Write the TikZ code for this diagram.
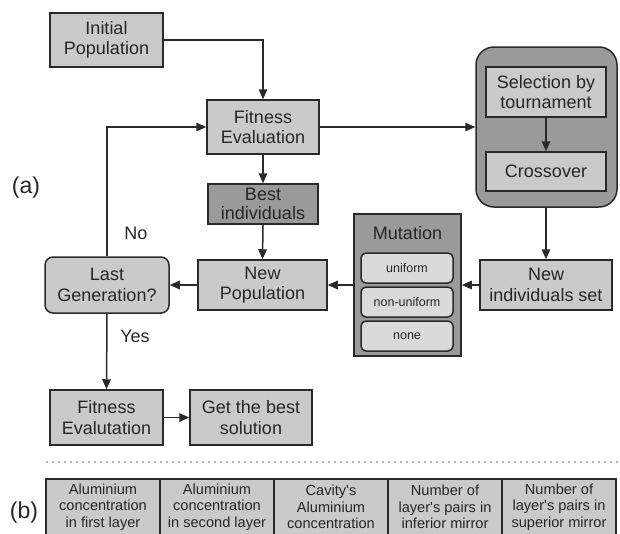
\documentclass[tikz,border=0pt]{standalone}
\usepackage{fontspec}
\setmainfont{Liberation Sans}[Ligatures=TeXOff]
\usetikzlibrary{arrows.meta}
\definecolor{lightbox}{HTML}{CACACA}
\definecolor{darkbox}{HTML}{9A9A9A}
\definecolor{innerbox}{HTML}{DADADA}
\definecolor{edge}{HTML}{2A2A2A}
\tikzset{
  box/.style={draw=edge, fill=lightbox, line width=1.5pt, align=center, inner sep=0pt,
    font=\fontsize{18}{20.5}\selectfont, text=black!85},
  darkfill/.style={fill=darkbox},
  rbox/.style={box, rounded corners=8pt},
  innerb/.style={draw=edge, fill=innerbox, line width=1.5pt, rounded corners=5pt, align=center,
    inner sep=0pt, font=\fontsize{12.5}{14}\selectfont, text=black!85,
    minimum width=92pt, minimum height=30pt},
  cellbox/.style={draw=edge, fill=lightbox, line width=1.5pt, align=center, inner sep=0pt,
    font=\fontsize{14.6}{16.5}\selectfont, text=black!85, minimum width=114pt, minimum height=56pt},
  arr/.style={draw=edge, line width=1.5pt, -{Triangle[length=10pt,width=8.5pt]}},
  lbl/.style={font=\fontsize{18}{20.5}\selectfont, text=black!85},
  biglbl/.style={font=\fontsize{23}{26}\selectfont, text=black!85}
}
\begin{document}
\begin{tikzpicture}[x=1pt,y=-1pt]
\useasboundingbox (0,0) rectangle (620,533);
% left column
\node[box, minimum width=113pt, minimum height=54pt] (init) at (106.5,40) {Initial\\Population};
\node[box, minimum width=112pt, minimum height=54pt] (fit) at (263,127) {Fitness\\Evaluation};
\node[box, darkfill, minimum width=110pt, minimum height=40pt, font=\fontsize{18}{19}\selectfont] (best) at (263,204) {Best\\individuals};
\node[box, minimum width=129pt, minimum height=50pt] (newpop) at (262.5,285) {New\\Population};
\node[rbox, minimum width=124pt, minimum height=56pt] (last) at (107,285) {Last\\Generation?};
\node[box, minimum width=113pt, minimum height=55pt] (fit2) at (106.5,417.5) {Fitness\\Evalutation};
\node[box, minimum width=122pt, minimum height=55pt] (getbest) at (251,417.5) {Get the best\\solution};
% selection group
\node[draw=edge, fill=darkbox, line width=1.5pt, rounded corners=18pt, minimum width=141pt, minimum height=160pt, inner sep=0pt] (group) at (546.5,127) {};
\node[box, minimum width=120pt, minimum height=50pt] (sel) at (546,92) {Selection by\\tournament};
\node[box, minimum width=120pt, minimum height=39pt] (cross) at (546,171.5) {Crossover};
\node[box, minimum width=132pt, minimum height=50pt] (newind) at (546,285) {New\\individuals set};
% mutation
\node[draw=edge, fill=darkbox, line width=1.5pt, minimum width=107pt, minimum height=142pt, inner sep=0pt] (mut) at (407.5,285) {};
\node[lbl] (muttitle) at (407.5,233) {Mutation};
\node[innerb] (uni) at (407,268) {uniform};
\node[innerb] (nonuni) at (407,302) {non-uniform};
\node[innerb] (none) at (407,336) {none};
% arrows
\draw[arr] (init.east) -| (fit.north);
\draw[arr] (fit.south) -- (best.north);
\draw[arr] (best.south) -- (newpop.north);
\draw[arr] (fit.east) -- (group.west);
\draw[arr] (sel.south) -- (cross.north);
\draw[arr] (group.south -| newind.north) -- (newind.north);
\draw[arr] (newind.west) -- (mut.east);
\draw[arr] (mut.west) -- (newpop.east);
\draw[arr] (newpop.west) -- (last.east);
\draw[arr] (last.north) |- (fit.west);
\draw[arr] (last.south) -- (fit2.north);
\draw[arr] (fit2.east) -- (getbest.west);
\node[lbl] (no) at (136,233) {No};
\node[lbl] (yes) at (135,336) {Yes};
\node[biglbl] (la) at (26,188) {(a)};
% separator
\coordinate (sepA) at (47,462);
\coordinate (sepB) at (620,462);
\draw[draw=black!60, line width=1.7pt, line cap=round, dash pattern=on 0pt off 6pt] (sepA) -- (sepB);
% (b)
\node[biglbl] (lb) at (24,513) {(b)};
\node[cellbox] (c1) at (103,507) {Aluminium\\concentration\\in first layer};
\node[cellbox] (c2) at (217,507) {Aluminium\\concentration\\in second layer};
\node[cellbox] (c3) at (331,507) {Cavity's\\Aluminium\\concentration};
\node[cellbox] (c4) at (445,507) {Number of\\layer's pairs in\\inferior mirror};
\node[cellbox] (c5) at (559,507) {Number of\\layer's pairs in\\superior mirror};
\end{tikzpicture}
\end{document}
